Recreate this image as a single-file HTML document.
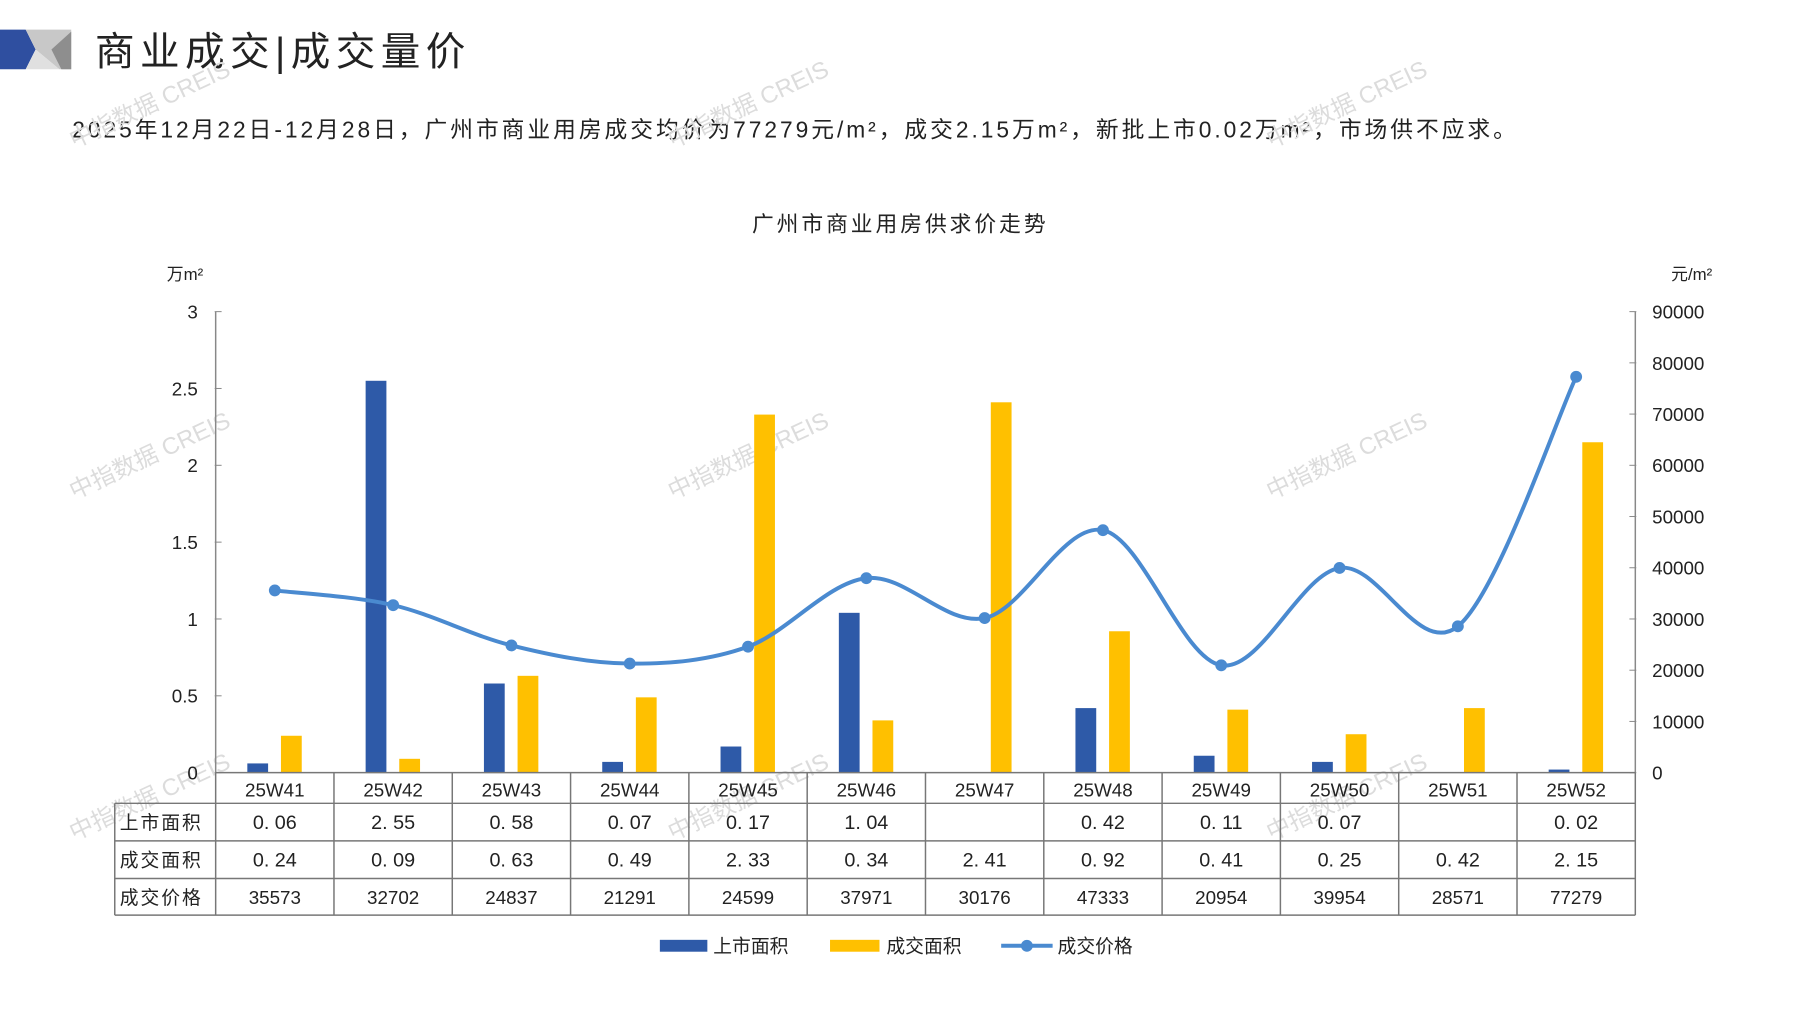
<!DOCTYPE html>
<html><head><meta charset="utf-8"><style>
html,body{margin:0;padding:0;background:#fff;width:1797px;height:1010px;overflow:hidden}
svg{display:block}
text{font-family:"Liberation Sans","Noto Sans CJK SC",sans-serif;fill:#222}
</style></head><body>
<svg id="s" width="1797" height="1010" xmlns="http://www.w3.org/2000/svg">
<g transform="scale(0.9893)">
<polygon points="0,30 26,30 36,50 26,70 0,70" fill="#2f4fa0"/>
<polygon points="26,30 72,30 72,70 60,70 36,50" fill="#c8c8c8"/>
<polygon points="26,70 36,50 60,70" fill="#e0e0e0"/>
<polygon points="52,50 72,32 72,70 62,70" fill="#8e8e8e"/>
<text x="96" y="66" font-size="40" style="letter-spacing:5.5px">商业成交|成交量价</text>
<text x="73" y="139" font-size="23" style="letter-spacing:3px">2025年12月22日-12月28日，广州市商业用房成交均价为77279元/m²，成交2.15万m²，新批上市0.02万m²，市场供不应求。</text>
<text x="910" y="234" font-size="22" text-anchor="middle" style="letter-spacing:3px">广州市商业用房供求价走势</text>
<text x="187" y="283" font-size="17" text-anchor="middle">万m²</text>
<text x="1710" y="283" font-size="17" text-anchor="middle">元/m²</text>
<g id="g"></g>
</g>
</svg>
<script>
var g=document.getElementById('g'),h='';
var L=218,R=1653,T=315,B=781,W=(R-L)/12;
var cats=['25W41','25W42','25W43','25W44','25W45','25W46','25W47','25W48','25W49','25W50','25W51','25W52'];
var sup=[0.06,2.55,0.58,0.07,0.17,1.04,null,0.42,0.11,0.07,null,0.02];
var deal=[0.24,0.09,0.63,0.49,2.33,0.34,2.41,0.92,0.41,0.25,0.42,2.15];
var pr=[35573,32702,24837,21291,24599,37971,30176,47333,20954,39954,28571,77279];
[[75,150],[680,150],[1285,150],[75,505],[680,505],[1285,505],[75,850],[680,850],[1285,850]].forEach(function(p){
h+='<text x="'+p[0]+'" y="'+p[1]+'" font-size="24" style="fill:#dcdcdc" transform="rotate(-25 '+p[0]+' '+p[1]+')">中指数据 CREIS</text>';});
h+='<line x1="'+L+'" y1="'+T+'" x2="'+L+'" y2="'+B+'" stroke="#888" stroke-width="1.5"/>';
h+='<line x1="'+R+'" y1="'+T+'" x2="'+R+'" y2="'+B+'" stroke="#888" stroke-width="1.5"/>';
['0','0.5','1','1.5','2','2.5','3'].forEach(function(t,i){var y=B-i*(B-T)/6;
h+='<line x1="'+(L-1)+'" y1="'+y+'" x2="'+(L+6)+'" y2="'+y+'" stroke="#888"/>';
h+='<text x="200" y="'+(y+7)+'" font-size="19" text-anchor="end">'+t+'</text>';});
for(var i=0;i<=9;i++){var y=B-i*(B-T)/9;
h+='<line x1="'+(R-6)+'" y1="'+y+'" x2="'+(R+1)+'" y2="'+y+'" stroke="#888"/>';
h+='<text x="1670" y="'+(y+7)+'" font-size="19">'+(i*10000)+'</text>';}
for(var i=0;i<12;i++){var x=L+i*W;
if(sup[i]!==null){var hh=sup[i]/3*(B-T);h+='<rect x="'+(x+32)+'" y="'+(B-hh)+'" width="21" height="'+hh+'" fill="#2e5aa8"/>';}
var hd=deal[i]/3*(B-T);h+='<rect x="'+(x+66)+'" y="'+(B-hd)+'" width="21" height="'+hd+'" fill="#ffc000"/>';}
var pts=pr.map(function(v,i){return [L+i*W+W/2,B-v/90000*(B-T)];});
var d='M'+pts[0][0]+','+pts[0][1];
for(var i=0;i<pts.length-1;i++){var p0=pts[Math.max(i-1,0)],p1=pts[i],p2=pts[i+1],p3=pts[Math.min(i+2,pts.length-1)];
d+=' C'+(p1[0]+(p2[0]-p0[0])/6)+','+(p1[1]+(p2[1]-p0[1])/6)+' '+(p2[0]-(p3[0]-p1[0])/6)+','+(p2[1]-(p3[1]-p1[1])/6)+' '+p2[0]+','+p2[1];}
h+='<path d="'+d+'" fill="none" stroke="#4a8ad0" stroke-width="4"/>';
pts.forEach(function(p){h+='<circle cx="'+p[0]+'" cy="'+p[1]+'" r="6" fill="#4a8ad0"/>';});
var rows=[B,812,850,888,925],TL=116;
var st='stroke="#777" stroke-width="1.5"';
h+='<line x1="'+L+'" y1="'+B+'" x2="'+R+'" y2="'+B+'" '+st+'/>';
for(var r=1;r<5;r++)h+='<line x1="'+TL+'" y1="'+rows[r]+'" x2="'+R+'" y2="'+rows[r]+'" '+st+'/>';
h+='<line x1="'+TL+'" y1="'+rows[1]+'" x2="'+TL+'" y2="'+rows[4]+'" '+st+'/>';
for(var i=0;i<=12;i++){var x=L+i*W;h+='<line x1="'+x+'" y1="'+B+'" x2="'+x+'" y2="'+rows[4]+'" '+st+'/>';}
var lab=['上市面积','成交面积','成交价格'];
for(var r=0;r<3;r++)h+='<text x="'+(TL+5)+'" y="'+(rows[r+1]+26)+'" font-size="19" style="letter-spacing:2px">'+lab[r]+'</text>';
for(var i=0;i<12;i++){var cx=L+i*W+W/2;
h+='<text x="'+cx+'" y="'+(B+24)+'" font-size="19" text-anchor="middle">'+cats[i]+'</text>';
if(sup[i]!==null)h+='<text x="'+cx+'" y="'+(rows[1]+26)+'" font-size="20" text-anchor="middle">'+sup[i].toFixed(2).replace('.','. ')+'</text>';
h+='<text x="'+cx+'" y="'+(rows[2]+26)+'" font-size="20" text-anchor="middle">'+deal[i].toFixed(2).replace('.','. ')+'</text>';
h+='<text x="'+cx+'" y="'+(rows[3]+26)+'" font-size="19" text-anchor="middle">'+pr[i]+'</text>';}
h+='<rect x="667" y="950" width="48" height="12" fill="#2e5aa8"/><text x="721" y="963" font-size="19">上市面积</text>';
h+='<rect x="839" y="950" width="50" height="12" fill="#ffc000"/><text x="896" y="963" font-size="19">成交面积</text>';
h+='<line x1="1012" y1="956" x2="1064" y2="956" stroke="#4a8ad0" stroke-width="4"/><circle cx="1038" cy="956" r="6" fill="#4a8ad0"/><text x="1069" y="963" font-size="19">成交价格</text>';
g.innerHTML=h;
</script>
</body></html>
